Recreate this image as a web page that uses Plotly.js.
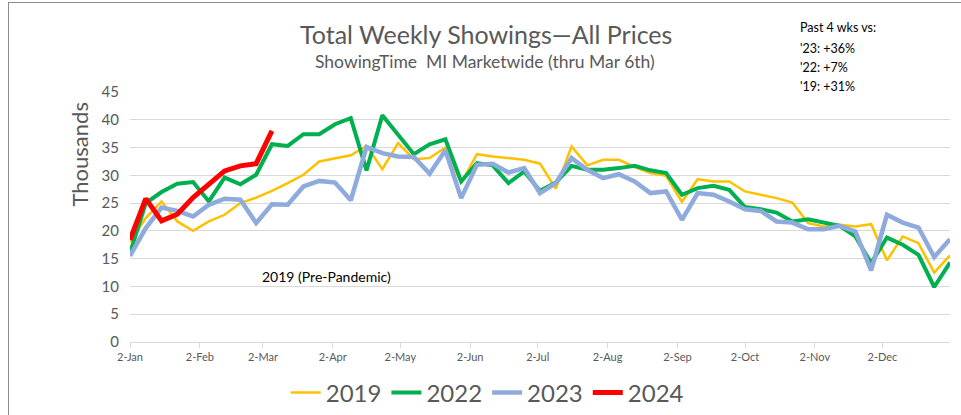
<!DOCTYPE html>
<html>
<head>
<meta charset="utf-8">
<script src="https://cdn.plot.ly/plotly-3.0.1.min.js"></script>
<style>
  html, body { margin: 0; padding: 0; background: #fff; }
  #wrap { position: relative; width: 961px; height: 415px; }
  #chart { width: 961px; height: 415px; }
  #frame { position: absolute; left: 8px; top: 2px; width: 953px; height: 413px;
           border-left: 1.5px solid #8c8c8c; border-top: 1.5px solid #8c8c8c; pointer-events: none; box-sizing: border-box; }
</style>
</head>
<body>
<div id="wrap">
  <div id="chart"></div>
  <div id="frame"></div>
</div>
<script>
// Week dates (plotted on a common calendar year)
const weeks = [
  '2019-01-02','2019-01-09','2019-01-16','2019-01-23','2019-01-30',
  '2019-02-06','2019-02-13','2019-02-20','2019-02-27',
  '2019-03-06','2019-03-13','2019-03-20','2019-03-27',
  '2019-04-03','2019-04-10','2019-04-17','2019-04-24',
  '2019-05-01','2019-05-08','2019-05-15','2019-05-22','2019-05-29',
  '2019-06-05','2019-06-12','2019-06-19','2019-06-26',
  '2019-07-03','2019-07-10','2019-07-17','2019-07-24','2019-07-31',
  '2019-08-07','2019-08-14','2019-08-21','2019-08-28',
  '2019-09-04','2019-09-11','2019-09-18','2019-09-25',
  '2019-10-02','2019-10-09','2019-10-16','2019-10-23','2019-10-30',
  '2019-11-06','2019-11-13','2019-11-20','2019-11-27',
  '2019-12-04','2019-12-11','2019-12-18','2019-12-25','2020-01-01'
];

// Weekly showings, thousands
const s2019 = [18.0,22.3,25.3,21.7,20.0,21.7,22.9,25.0,26.0,27.2,
               28.6,30.1,32.5,33.1,33.6,35.3,31.1,35.8,32.9,33.1,
               35.0,28.6,33.8,33.4,33.1,32.8,32.1,27.6,35.2,31.8,
               32.8,32.8,31.5,30.4,29.9,25.2,29.3,28.9,28.9,27.1,
               26.5,25.9,25.1,21.4,20.8,21.1,20.8,21.2,14.7,19.0,
               17.8,12.5,15.6];
const s2022 = [16.0,25.0,27.0,28.5,28.8,25.3,29.6,28.4,30.1,35.6,
               35.3,37.4,37.4,39.2,40.3,30.9,40.8,37.3,33.8,35.6,
               36.5,28.9,32.2,31.8,28.6,30.7,27.2,28.7,31.7,31.0,
               31.0,31.3,31.7,30.9,30.4,26.5,27.7,28.1,27.4,24.3,
               23.9,23.3,21.7,22.1,21.5,20.9,19.0,14.2,18.8,17.5,
               15.7,9.9,14.3];
const s2023 = [15.5,20.5,24.2,23.6,22.6,24.7,25.8,25.6,21.4,24.8,
               24.7,28.0,29.0,28.7,25.5,35.1,34.0,33.4,33.3,30.3,
               34.5,25.9,31.9,32.1,30.5,31.3,26.8,28.6,33.1,31.0,
               29.5,30.2,28.9,26.8,27.1,22.0,26.8,26.5,25.3,23.9,
               23.6,21.7,21.5,20.3,20.3,20.9,19.9,12.9,22.9,21.5,
               20.6,15.3,18.5];
const s2024 = [18.4,25.8,21.8,23.0,26.0,28.5,30.8,31.7,32.1,38.0];

const tickVals = ['2019-01-02','2019-02-02','2019-03-02','2019-04-02','2019-05-02','2019-06-02',
                  '2019-07-02','2019-08-02','2019-09-02','2019-10-02','2019-11-02','2019-12-02'];
const tickText = ['2-Jan','2-Feb','2-Mar','2-Apr','2-May','2-Jun',
                  '2-Jul','2-Aug','2-Sep','2-Oct','2-Nov','2-Dec'];

const FONT = 'Lato, "Open Sans", sans-serif';
const GRAY = '#595959';

const traces = [
  {x: weeks, y: s2019, name: '2019', mode: 'lines', line: {color: '#FFC000', width: 2.5}},
  {x: weeks, y: s2022, name: '2022', mode: 'lines', line: {color: '#00B050', width: 4}},
  {x: weeks, y: s2023, name: '2023', mode: 'lines', line: {color: '#8FAADC', width: 4.5}},
  {x: weeks.slice(0, s2024.length), y: s2024, name: '2024', mode: 'lines', line: {color: '#FF0000', width: 5}}
];

const layout = {
  width: 961, height: 415,
  margin: {l: 130, r: 11, t: 92, b: 73, autoexpand: false},
  paper_bgcolor: '#ffffff', plot_bgcolor: '#ffffff',
  font: {family: FONT, color: GRAY},
  showlegend: true,
  legend: {orientation: 'h', xref: 'container', yref: 'container',
           x: 0.507, xanchor: 'center', y: 0.053, yanchor: 'middle',
           font: {size: 24, color: GRAY, family: FONT}, bgcolor: 'rgba(0,0,0,0)'},
  xaxis: {
    type: 'date', range: ['2019-01-02', '2020-01-01'],
    tickmode: 'array', tickvals: tickVals, ticktext: tickText,
    tickfont: {size: 11, color: GRAY},
    ticks: 'outside', ticklen: 5, tickcolor: '#d9d9d9',
    showgrid: false, showline: true, linecolor: '#d9d9d9', linewidth: 1,
    zeroline: false, fixedrange: true
  },
  yaxis: {
    range: [0, 45], tickvals: [0,5,10,15,20,25,30,35,40,45],
    tickfont: {size: 15, color: GRAY},
    showgrid: true, gridcolor: '#d9d9d9', gridwidth: 1,
    zeroline: false, showline: false, ticks: '',
    ticklabelstandoff: 10
  },
  annotations: [
    {text: 'Thousands', xref: 'paper', yref: 'paper', x: -0.061, y: 0.75,
     xanchor: 'center', yanchor: 'middle', textangle: -90, showarrow: false,
     font: {size: 22, color: GRAY}},
    {text: 'Total Weekly Showings\u2014All Prices', xref: 'paper', yref: 'paper',
     x: 0.434, y: 1.232, xanchor: 'center', yanchor: 'middle', showarrow: false,
     font: {size: 25, color: GRAY}},
    {text: 'ShowingTime&nbsp; MI Marketwide (thru Mar 6th)', xref: 'paper', yref: 'paper',
     x: 0.433, y: 1.122, xanchor: 'center', yanchor: 'middle', showarrow: false,
     font: {size: 17.5, color: GRAY}},
    {text: 'Past 4 wks vs:', xref: 'paper', yref: 'paper', x: 0.815, y: 1.258,
     xanchor: 'left', yanchor: 'middle', showarrow: false, font: {size: 12.5, color: '#000'}},
    {text: "'23: +36%", xref: 'paper', yref: 'paper', x: 0.815, y: 1.174,
     xanchor: 'left', yanchor: 'middle', showarrow: false, font: {size: 12.5, color: '#000'}},
    {text: "'22: +7%", xref: 'paper', yref: 'paper', x: 0.815, y: 1.098,
     xanchor: 'left', yanchor: 'middle', showarrow: false, font: {size: 12.5, color: '#000'}},
    {text: "'19: +31%", xref: 'paper', yref: 'paper', x: 0.815, y: 1.022,
     xanchor: 'left', yanchor: 'middle', showarrow: false, font: {size: 12.5, color: '#000'}},
    {text: '2019 (Pre-Pandemic)', xref: 'paper', yref: 'paper', x: 0.240, y: 0.2635,
     xanchor: 'center', yanchor: 'middle', showarrow: false, font: {size: 14, color: '#000'}}
  ]
};

Plotly.newPlot('chart', traces, layout, {displayModeBar: false, staticPlot: true});
</script>
</body>
</html>
